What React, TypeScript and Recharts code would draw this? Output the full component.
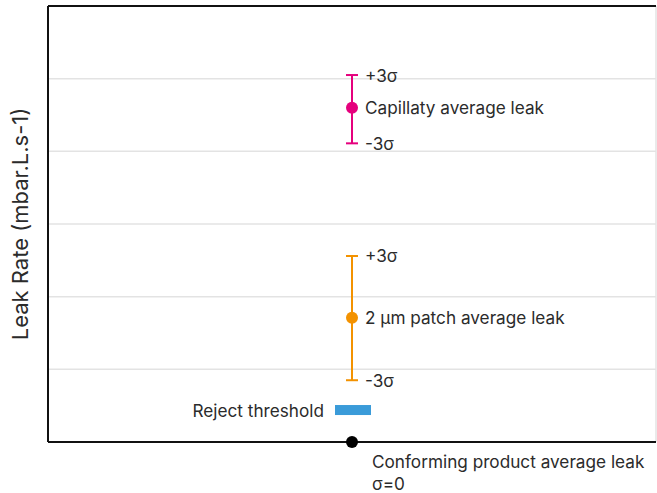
import React from 'react';
import {
  ComposedChart,
  Scatter,
  XAxis,
  YAxis,
  CartesianGrid,
  ErrorBar,
  ReferenceLine,
} from 'recharts';

// all series sit on the same x position (middle of the axis)
const xPos = 1;

const capillaryMean = 4.6;
const capillaryHigh = 5.05;
const capillaryLow = 4.11;

const patchMean = 1.71;
const patchHigh = 2.56;
const patchLow = 0.85;

const rejectThreshold = 0.44;
const conformingMean = 0;

const yTicks = [0, 1, 2, 3, 4, 5, 6];
const gridLevels = [1, 2, 3, 4, 5];
const frameLevels = [0, 6];
const xTicks = [0, 2];

const FONT = 'Inter, "Noto Sans", sans-serif';
const TEXT = '#2b2b2b';
const FS = 17.2;

const capillaryData = [
  {
    x: xPos,
    y: capillaryMean,
    err: [capillaryMean - capillaryLow, capillaryHigh - capillaryMean],
    label: 'Capillaty average leak',
  },
];
const patchData = [
  {
    x: xPos,
    y: patchMean,
    err: [patchMean - patchLow, patchHigh - patchMean],
    label: '2 µm patch average leak',
  },
];
const sigmaData = [
  { x: xPos, y: capillaryHigh, label: '+3σ' },
  { x: xPos, y: capillaryLow, label: '-3σ' },
  { x: xPos, y: patchHigh, label: '+3σ' },
  { x: xPos, y: patchLow, label: '-3σ' },
];
const thresholdData = [{ x: xPos, y: rejectThreshold, label: 'Reject threshold' }];
const conformingData = [
  { x: xPos, y: conformingMean, label: 'Conforming product average leak', sub: 'σ=0' },
];

const dotShape = (color: string) => (props: any) => {
  const { cx, cy, payload } = props;
  return (
    <g>
      <circle cx={cx} cy={cy} r={6} fill={color} />
      <text
        x={cx + 13}
        y={cy}
        dominantBaseline="central"
        fontSize={FS}
        fontFamily={FONT}
        fill={TEXT}
      >
        {payload.label}
      </text>
    </g>
  );
};

const sigmaShape = (props: any) => {
  const { cx, cy, payload } = props;
  return (
    <text
      x={cx + 13}
      y={cy}
      dominantBaseline="central"
      fontSize={FS}
      fontFamily={FONT}
      fill={TEXT}
    >
      {payload.label}
    </text>
  );
};

const thresholdShape = (props: any) => {
  const { cx, cy, payload } = props;
  return (
    <g>
      <rect x={cx - 17} y={cy - 5} width={36} height={10} fill="#3a9bd9" />
      <text
        x={cx - 28}
        y={cy}
        textAnchor="end"
        dominantBaseline="central"
        fontSize={FS}
        fontFamily={FONT}
        fill={TEXT}
      >
        {payload.label}
      </text>
    </g>
  );
};

const conformingShape = (props: any) => {
  const { cx, cy, payload } = props;
  return (
    <g>
      <circle cx={cx} cy={cy} r={6} fill="#000" />
      <text x={cx + 20} y={cy + 26} fontSize={FS} fontFamily={FONT} fill={TEXT}>
        {payload.label}
      </text>
      <text x={cx + 20} y={cy + 48} fontSize={FS} fontFamily={FONT} fill={TEXT}>
        {payload.sub}
      </text>
    </g>
  );
};

const YLabel = (props: any) => {
  const { viewBox } = props;
  const x = 20;
  const y = viewBox.y + viewBox.height / 2;
  return (
    <text
      x={x}
      y={y}
      transform={`rotate(-90 ${x} ${y})`}
      textAnchor="middle"
      dominantBaseline="central"
      fontSize={22}
      fontFamily={FONT}
      fill={TEXT}
    >
      Leak Rate (mbar.L.s-1)
    </text>
  );
};

export default function App() {
  return (
    <div style={{ position: 'absolute', left: 0, top: 0, background: '#fff' }}>
      <ComposedChart
        width={657}
        height={493}
        margin={{ top: 6, right: 1, bottom: 51, left: 0 }}
      >
        <CartesianGrid stroke="#e3e3e3" strokeWidth={1.5} horizontal={false} />
        <XAxis
          type="number"
          dataKey="x"
          domain={[0, 2]}
          ticks={xTicks}
          tick={false}
          tickLine={false}
          height={0}
          axisLine={{ stroke: '#111', strokeWidth: 2 }}
        />
        <YAxis
          type="number"
          dataKey="y"
          domain={[0, 6]}
          ticks={yTicks}
          tick={false}
          tickLine={false}
          width={48}
          axisLine={{ stroke: '#111', strokeWidth: 2 }}
          label={<YLabel />}
        />
        {gridLevels.map((v) => (
          <ReferenceLine key={v} y={v} stroke="#e3e3e3" strokeWidth={1.5} />
        ))}
        {frameLevels.map((v) => (
          <ReferenceLine key={`f${v}`} y={v} stroke="#111" strokeWidth={2} />
        ))}
        <Scatter data={capillaryData} shape={dotShape('#e5007d')} isAnimationActive={false}>
          <ErrorBar
            dataKey="err"
            direction="y"
            width={6}
            stroke="#e5007d"
            strokeWidth={2}
            isAnimationActive={false}
          />
        </Scatter>
        <Scatter data={patchData} shape={dotShape('#f39200')} isAnimationActive={false}>
          <ErrorBar
            dataKey="err"
            direction="y"
            width={6}
            stroke="#f39200"
            strokeWidth={2}
            isAnimationActive={false}
          />
        </Scatter>
        <Scatter data={sigmaData} shape={sigmaShape} isAnimationActive={false} />
        <Scatter data={thresholdData} shape={thresholdShape} isAnimationActive={false} />
        <Scatter data={conformingData} shape={conformingShape} isAnimationActive={false} />
      </ComposedChart>
    </div>
  );
}
